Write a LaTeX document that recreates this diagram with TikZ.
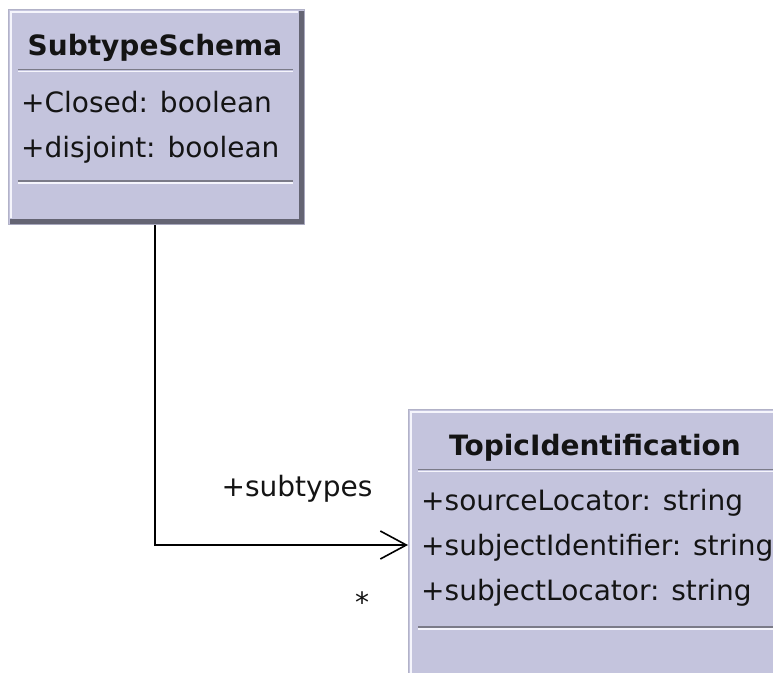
\documentclass[tikz,border=0pt]{standalone}
\usepackage{fontspec}
\setmainfont{DejaVu Sans}
\usetikzlibrary{arrows.meta}
\definecolor{classfill}{RGB}{196,196,221}
\definecolor{edgedark}{RGB}{100,100,115}
\definecolor{edgelight}{RGB}{245,245,252}
\definecolor{outline}{RGB}{178,178,200}
\definecolor{txt}{RGB}{20,20,20}
\tikzset{
  classbox/.style={draw=outline, line width=1.2pt, fill=classfill, rectangle, inner sep=0pt, anchor=north west},
  attr/.style={anchor=base west, inner sep=0pt, text=txt, font=\fontsize{28}{30}\selectfont},
  ttl/.style={anchor=base, inner sep=0pt, text=txt, font=\fontsize{28}{30}\selectfont\bfseries},
  lbl/.style={anchor=base, inner sep=0pt, text=txt, font=\fontsize{28}{30}\selectfont},
  sepdark/.style={draw=edgedark!85, line width=1.5pt},
  seplight/.style={draw=edgelight, line width=1.2pt},
  conn/.style={line width=1.6pt, black}
}
\begin{document}
\begin{tikzpicture}[x=1pt, y=-1pt]
\useasboundingbox (0,0) rectangle (773,672);
\fill[white] (0,0) rectangle (773,672);
\clip (0,0) rectangle (773,672);
% SubtypeSchema box
\node[classbox, minimum width=296pt, minimum height=215pt] (s) at (8,9) {};
\fill[edgedark] (299,11) -- (304,11) -- (304,224) -- (10,224) -- (10,219) -- (299,219) -- cycle;
\draw[edgelight, line width=1.6pt] (11,218) -- (11,12) -- (298,12);
\node[ttl] (stitle) at (155,55) {SubtypeSchema};
\draw[sepdark] (18,69.5) -- (293,69.5);
\draw[seplight] (18,71.5) -- (293,71.5);
\node[attr] (sa1) at (21,112) {+Closed: boolean};
\node[attr] (sa2) at (21,157) {+disjoint: boolean};
\draw[sepdark] (18,181) -- (293,181);
\draw[seplight] (18,183) -- (293,183);
% TopicIdentification box
\node[classbox, minimum width=400pt, minimum height=300pt] (t) at (408,409) {};
\draw[edgelight, line width=1.6pt] (411,700) -- (411,412) -- (800,412);
\node[ttl] (ttitle) at (595,455) {TopicIdentification};
\draw[sepdark] (418,469.5) -- (800,469.5);
\draw[seplight] (418,471.5) -- (800,471.5);
\node[attr] (ta1) at (421,510) {+sourceLocator: string};
\node[attr] (ta2) at (421,555) {+subjectIdentifier: string};
\node[attr] (ta3) at (421,600) {+subjectLocator: string};
\draw[sepdark] (418,627) -- (800,627);
\draw[seplight] (418,629) -- (800,629);
% connector
\coordinate (bend) at (155,545);
\draw[conn, -{Straight Barb[length=26pt, width=28pt, line width=1.6pt]}] (s.south -| bend) -- (bend) -- (t.west |- bend);
\node[lbl] (role) at (297,496) {+subtypes};
\node[lbl] (mult) at (362,612) {*};
\end{tikzpicture}
\end{document}
